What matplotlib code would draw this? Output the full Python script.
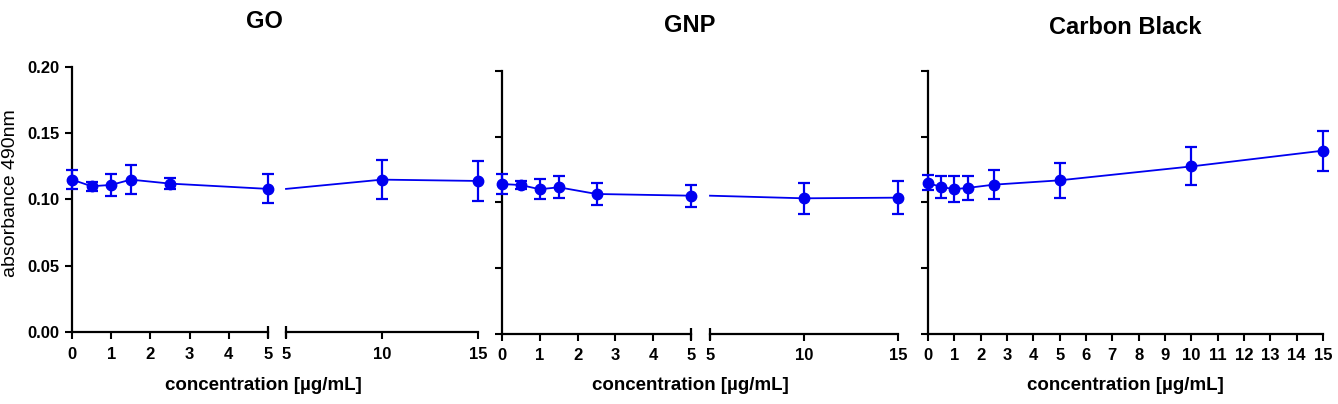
import matplotlib.pyplot as plt
from matplotlib.ticker import FormatStrFormatter

# data
conc = [0, 0.5, 1, 1.5, 2.5, 5, 10, 15]

go_mean = [0.115, 0.110, 0.111, 0.115, 0.112, 0.108, 0.115, 0.114]
go_err = [0.007, 0.0035, 0.0085, 0.011, 0.004, 0.011, 0.015, 0.015]

gnp_mean = [0.1139, 0.1131, 0.1099, 0.1114, 0.1063, 0.105, 0.103, 0.1035]
gnp_err = [0.0073, 0.0033, 0.0075, 0.0083, 0.0084, 0.0085, 0.0118, 0.0126]

cb_mean = [0.1147, 0.1116, 0.110, 0.1109, 0.1134, 0.1167, 0.1273, 0.1393]
cb_err = [0.0057, 0.0081, 0.0101, 0.0091, 0.0109, 0.0134, 0.0145, 0.0152]

titles = ["GO", "GNP", "Carbon Black"]
xlabel = "concentration [\u00b5g/mL]"
ylabel = "absorbance 490nm"

plt.rcParams['font.family'] = ['Liberation Sans', 'DejaVu Sans']
plt.rcParams['font.weight'] = 'bold'

W, H = 1338, 404
fig = plt.figure(figsize=(W / 100, H / 100), dpi=100)
blue = '#0000f0'


def px_axes(x0, x1, y_top, y_zero):
    return fig.add_axes([x0 / W, 1 - y_zero / H, (x1 - x0) / W, (y_zero - y_top) / H])


def style(ax, left_spine=True, ylabels=False):
    ax.set_ylim(0, 0.20)
    for s in ['top', 'right']:
        ax.spines[s].set_visible(False)
    ax.spines['bottom'].set_linewidth(1.6)
    ax.spines['left'].set_linewidth(1.6)
    ax.tick_params(direction='out', length=5, width=1.5, labelsize=12, pad=4)
    ax.tick_params(axis='x', pad=5.5)
    if left_spine:
        ax.set_yticks([0, 0.05, 0.10, 0.15, 0.20])
        ax.yaxis.set_major_formatter(FormatStrFormatter('%.2f'))
        if not ylabels:
            ax.set_yticklabels([])
    else:
        ax.spines['left'].set_visible(False)
        ax.set_yticks([])
    ax.patch.set_alpha(0)


def draw(ax, xs, ys, es, markers=True):
    ax.plot(xs, ys, color=blue, lw=1.3, clip_on=False, zorder=3)
    if markers:
        ax.errorbar(xs, ys, yerr=es, fmt='o', color=blue, ms=7.5, elinewidth=1.6,
                    capsize=4, capthick=1.6, clip_on=False, zorder=4)


def broken_panel(xl0, xl1, xr0, xr1, y_top, y_zero, mean, err, ylabels):
    axl = px_axes(xl0, xl1, y_top, y_zero)
    axr = px_axes(xr0, xr1, y_top, y_zero)
    style(axl, True, ylabels)
    style(axr, False)
    axl.set_xlim(0, 5)
    axl.set_xticks([0, 1, 2, 3, 4, 5])
    axr.set_xlim(5, 15)
    axr.set_xticks([5, 10, 15])
    lo = [i for i, c in enumerate(conc) if c <= 5]
    hi = [i for i, c in enumerate(conc) if c >= 5]
    draw(axl, [conc[i] for i in lo], [mean[i] for i in lo], [err[i] for i in lo])
    draw(axr, [conc[i] for i in hi], [mean[i] for i in hi], None, markers=False)
    hi2 = [i for i in hi if conc[i] > 5]
    axr.errorbar([conc[i] for i in hi2], [mean[i] for i in hi2], yerr=[err[i] for i in hi2],
                 fmt='o', color=blue, ms=7.5, elinewidth=1.6, capsize=4, capthick=1.6,
                 clip_on=False, zorder=4)
    # break end caps
    axl.plot([5], [0], marker='|', ms=9, mew=1.6, color='k', clip_on=False)
    axr.plot([5], [0], marker='|', ms=9, mew=1.6, color='k', clip_on=False)
    return axl, axr


broken_panel(72, 268, 286, 478, 67, 332, go_mean, go_err, True)
broken_panel(502, 691, 710, 898, 71, 333.5, gnp_mean, gnp_err, False)

ax3 = px_axes(928, 1323, 71, 333.5)
style(ax3, True, False)
ax3.set_xlim(0, 15)
ax3.set_xticks(range(0, 16))
draw(ax3, conc, cb_mean, cb_err)

fig.text(11 / W, 1 - 193 / H, ylabel, rotation=90, ha='center', va='center',
         fontsize=14, fontweight='normal')

for cx, ty, t in [(264, 22, titles[0]), (690, 26, titles[1]), (1125, 27, titles[2])]:
    fig.text(cx / W, 1 - ty / H, t, ha='center', va='center', fontsize=17, fontweight='bold')

for cx in [263, 690, 1125]:
    fig.text(cx / W, 1 - 386 / H, xlabel, ha='center', va='center', fontsize=13.5, fontweight='bold')

fig.savefig('out.png', dpi=100)
